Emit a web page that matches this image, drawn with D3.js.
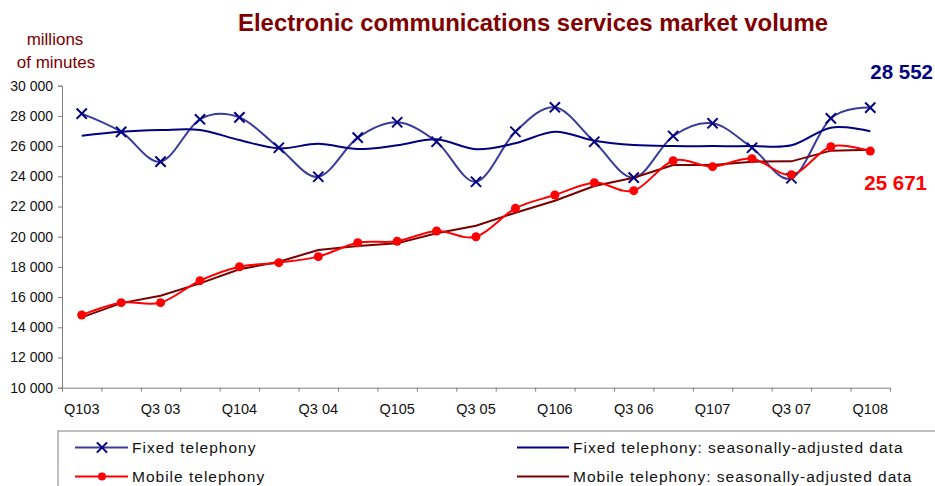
<!DOCTYPE html>
<html lang="en">
<head>
<meta charset="UTF-8">
<script src="https://d3js.org/d3.v7.min.js"></script>
<style>
    body { margin: 0; background: white; }
    text { font-family: Arial, "Liberation Sans", sans-serif; }
</style>
</head>
<body>
<script>
    const w = 935;
    const h = 486;

    // quarters, Q1 2003 .. Q1 2008
    const quarters = ["Q103", "Q2 03", "Q3 03", "Q4 03", "Q104", "Q2 04", "Q3 04", "Q4 04",
        "Q105", "Q2 05", "Q3 05", "Q4 05", "Q106", "Q2 06", "Q3 06", "Q4 06",
        "Q107", "Q2 07", "Q3 07", "Q4 07", "Q108"];

    // millions of minutes
    const fixed = [28150, 26940, 24970, 27775, 27900, 25890, 23970, 26560, 27580, 26290, 23640,
        26950, 28570, 26290, 23910, 26670, 27510, 25890, 23870, 27840, 28552];
    const fixedSA = [26690, 26950, 27060, 27070, 26400, 25850, 26150, 25810, 26050, 26450, 25790,
        26190, 26950, 26360, 26070, 26000, 26000, 26000, 26050, 27220, 26990];
    const mobile = [14815, 15630, 15630, 17090, 18010, 18280, 18680, 19600, 19700, 20380, 20000,
        21880, 22760, 23580, 23050, 25030, 24640, 25170, 24100, 25960, 25671];
    const mobileSA = [14660, 15600, 16090, 16910, 17840, 18340, 19120, 19380, 19560, 20230, 20730,
        21590, 22380, 23360, 23910, 24750, 24750, 24970, 24990, 25700, 25760];

    const yTicks = [10000, 12000, 14000, 16000, 18000, 20000, 22000, 24000, 26000, 28000, 30000];

    const plotLeft = 62, plotRight = 890, plotTop = 85.7, plotBottom = 387.7;

    const svg = d3.select("body").append("svg")
        .attr("width", w)
        .attr("height", h);

    const x = d3.scaleBand().domain(quarters).range([plotLeft, plotRight]).padding(0);
    const cx = d => x(d) + x.bandwidth() / 2;
    const y = d3.scaleLinear().domain([10000, 30000]).range([plotBottom, plotTop]);

    const fmt = v => d3.format(",")(v).replace(",", " ");

    // y axis
    const yAxis = svg.append("g")
        .attr("transform", "translate(" + plotLeft + ",0)")
        .call(d3.axisLeft(y).tickValues(yTicks).tickFormat(fmt).tickSize(4).tickPadding(5));
    yAxis.select(".domain").attr("stroke", "#808080");
    yAxis.selectAll(".tick line").attr("stroke", "#808080");
    yAxis.selectAll(".tick text").style("font-size", "14px").attr("fill", "#111");

    // x axis: tick marks between categories
    const bounds = d3.range(quarters.length + 1).map(i => plotLeft + i * x.bandwidth());
    const xb = d3.scaleLinear().domain([plotLeft, plotRight]).range([plotLeft, plotRight]);
    const xAxis = svg.append("g")
        .attr("transform", "translate(0," + plotBottom + ")")
        .call(d3.axisBottom(xb).tickValues(bounds).tickFormat("").tickSize(4).tickSizeOuter(0));
    xAxis.select(".domain").attr("stroke", "#808080");
    xAxis.selectAll(".tick line").attr("stroke", "#808080");

    // x labels every second quarter
    svg.append("g").selectAll("text")
        .data(quarters.filter((q, i) => i % 2 === 0))
        .enter().append("text")
        .attr("x", d => cx(d))
        .attr("y", 414)
        .attr("text-anchor", "middle")
        .style("font-size", "14.5px")
        .attr("fill", "#111")
        .text(d => d);

    const smooth = d3.line()
        .x((d, i) => cx(quarters[i]))
        .y(d => y(d))
        .curve(d3.curveCatmullRom.alpha(0));
    const straight = d3.line()
        .x((d, i) => cx(quarters[i]))
        .y(d => y(d));

    // lines
    svg.append("path").datum(fixed).attr("d", smooth)
        .attr("fill", "none").attr("stroke", "#3a3a9c").attr("stroke-width", 2);
    svg.append("path").datum(fixedSA).attr("d", smooth)
        .attr("fill", "none").attr("stroke", "#000080").attr("stroke-width", 2);
    svg.append("path").datum(mobileSA).attr("d", straight)
        .attr("fill", "none").attr("stroke", "#7a0000").attr("stroke-width", 2);
    svg.append("path").datum(mobile).attr("d", smooth)
        .attr("fill", "none").attr("stroke", "#ff0000").attr("stroke-width", 2);

    // markers
    const cross = d3.symbol().type(d3.symbolX).size(70);
    svg.append("g").selectAll("path")
        .data(fixed)
        .enter().append("path")
        .attr("d", cross)
        .attr("transform", (d, i) => "translate(" + cx(quarters[i]) + "," + y(d) + ")")
        .attr("fill", "none")
        .attr("stroke", "#000080")
        .attr("stroke-width", 2);

    svg.append("g").selectAll("circle")
        .data(mobile)
        .enter().append("circle")
        .attr("cx", (d, i) => cx(quarters[i]))
        .attr("cy", d => y(d))
        .attr("r", 4.5)
        .attr("fill", "#ff0000");

    // title
    svg.append("text")
        .attr("x", 533)
        .attr("y", 31)
        .attr("text-anchor", "middle")
        .attr("textLength", 590)
        .attr("lengthAdjust", "spacingAndGlyphs")
        .style("font-size", "23px")
        .style("font-weight", "bold")
        .attr("fill", "#800000")
        .text("Electronic communications services market volume");

    svg.append("text").attr("x", 55).attr("y", 45).attr("text-anchor", "middle")
        .style("font-size", "17px").attr("fill", "#800000").text("millions");
    svg.append("text").attr("x", 56).attr("y", 68).attr("text-anchor", "middle")
        .style("font-size", "17px").attr("fill", "#800000").text("of minutes");

    // end values
    svg.append("text").attr("x", 933).attr("y", 79).attr("text-anchor", "end")
        .style("font-size", "20.5px").style("font-weight", "bold").attr("fill", "#000080")
        .text(fmt(fixed[fixed.length - 1]));
    svg.append("text").attr("x", 927).attr("y", 190).attr("text-anchor", "end")
        .style("font-size", "20.5px").style("font-weight", "bold").attr("fill", "#ff0000")
        .text(fmt(mobile[mobile.length - 1]));

    // legend
    const legend = svg.append("g");
    legend.append("rect")
        .attr("x", 58).attr("y", 431).attr("width", 900).attr("height", 70)
        .attr("fill", "white").attr("stroke", "#808080").attr("stroke-width", 1);

    const items = [
        { label: "Fixed telephony", color: "#3a3a9c", mark: "x", lx: 75, ly: 447.5 },
        { label: "Mobile telephony", color: "#ff0000", mark: "o", lx: 75, ly: 476.5 },
        { label: "Fixed telephony: seasonally-adjusted data", color: "#000080", mark: null, lx: 517, ly: 447.5 },
        { label: "Mobile telephony: seasonally-adjusted data", color: "#7a0000", mark: null, lx: 517, ly: 476.5 }
    ];
    items.forEach(it => {
        const len = it.mark ? 53 : 52;
        legend.append("line")
            .attr("x1", it.lx).attr("x2", it.lx + len)
            .attr("y1", it.ly).attr("y2", it.ly)
            .attr("stroke", it.color).attr("stroke-width", 2);
        if (it.mark === "x") {
            legend.append("path").attr("d", cross)
                .attr("transform", "translate(" + (it.lx + 27) + "," + it.ly + ")")
                .attr("fill", "none").attr("stroke", "#000080").attr("stroke-width", 2);
        } else if (it.mark === "o") {
            legend.append("circle").attr("cx", it.lx + 27).attr("cy", it.ly).attr("r", 4)
                .attr("fill", "#ff0000");
        }
        legend.append("text")
            .attr("x", it.lx + len + 4)
            .attr("y", it.ly + 5.5)
            .style("font-size", "15.5px")
            .style("letter-spacing", "1px")
            .attr("fill", "#111")
            .text(it.label);
    });
</script>
</body>
</html>
